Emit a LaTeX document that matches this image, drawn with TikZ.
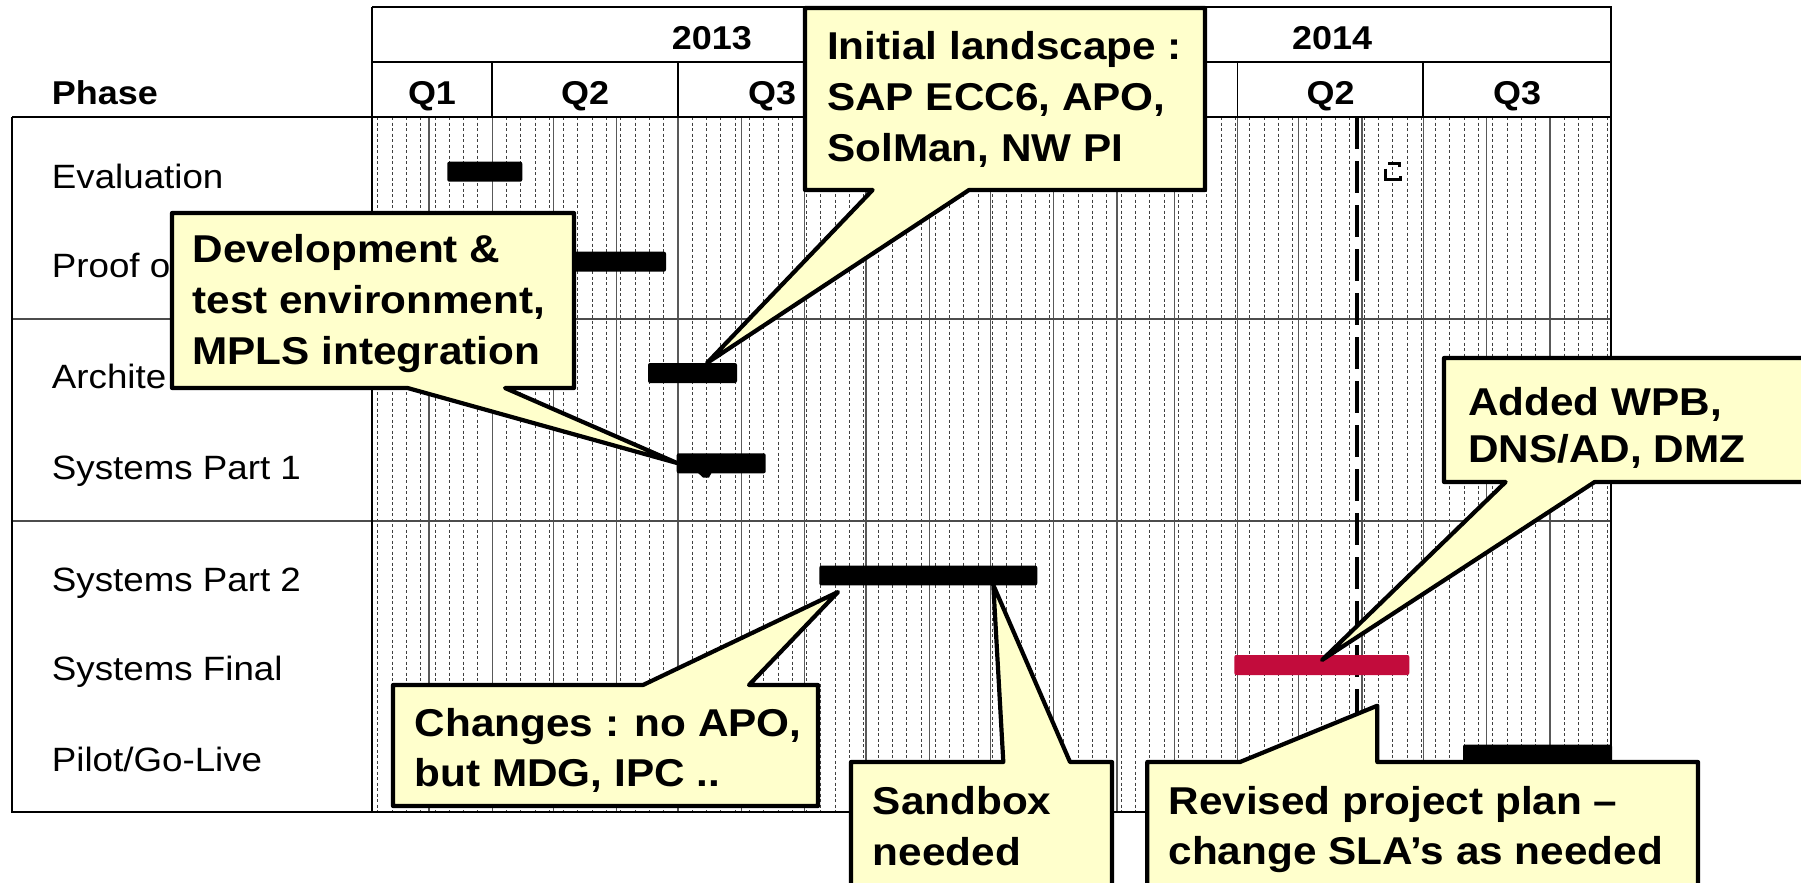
\documentclass[tikz,border=0pt]{standalone}
\usepackage{fontspec}
\setmainfont{Liberation Sans}[FakeStretch=1.09]
\definecolor{callfill}{RGB}{255,255,204}
\definecolor{redbar}{RGB}{194,12,60}
\begin{document}
\begin{tikzpicture}[x=1pt,y=-1pt,
  lbl/.style={inner sep=0pt, anchor=base west, font=\fontsize{33.7}{40}\selectfont},
  hdr/.style={inner sep=0pt, anchor=base, font=\fontsize{33}{40}\selectfont\bfseries},
  ctext/.style={inner sep=0pt, anchor=base west, font=\fontsize{38.8}{50}\selectfont\bfseries},
  calloutbox/.style={draw=black, line width=4.2pt, fill=callfill, line join=round},
  ganttbar/.style={fill=black, rounded corners=2pt},
  weekline/.style={draw=black!75, line width=0.9pt, dash pattern=on 3pt off 2.5pt},
  monthline/.style={draw=black!65, line width=1.3pt},
  rowline/.style={draw=black!70, line width=1.2pt},
  frameline/.style={draw=black, line width=1.8pt},
  milestone/.style={draw=black, line width=3.3pt, dash pattern=on 31.5pt off 12.5pt},
]
\useasboundingbox (0,0) rectangle (1801,883);
\clip (0,0) rectangle (1801,883);
\fill[white] (0,0) rectangle (1801,883);

% ---- grid: weekly dashed lines
\foreach \k in {0,...,86}
  \draw[weekline] ({377.8+14.294*\k},117) -- ({377.8+14.294*\k},812);
% ---- month / quarter lines
\foreach \d in {28,59,89,120,150,181,212,242,273,303,334,365,393,424,454,485,515,546,577}
  \draw[monthline] ({371.7+2.042*\d},117) -- ({371.7+2.042*\d},812);

% ---- row dividers
\draw[rowline] (12,319) -- (1611,319);
\draw[rowline] (12,521) -- (1611,521);

% ---- table frame
\draw[frameline] (12,117) -- (1611,117);
\draw[frameline] (12,117) -- (12,812) -- (1611,812);
\draw[frameline] (372,7) -- (1611,7) -- (1611,812);
\draw[frameline] (372,7) -- (372,812);
\draw[frameline] (372,62) -- (1611,62);
% quarter dividers in the header
\foreach \d in {59,150,242,424,515}
  \draw[frameline] ({371.7+2.042*\d},62) -- ({371.7+2.042*\d},117);
\draw[frameline] ({371.7+2.042*334},7) -- ({371.7+2.042*334},117);

% ---- header texts
\node[hdr, anchor=base west] (hPhase) at (51.7,104) {Phase};
\node[hdr] (y2013) at (712,50) {2013};
\node[hdr] (y2014) at (1332,50) {2014};
\node[hdr] (q1a) at (432,104) {Q1};
\node[hdr] (q2a) at (585,104) {Q2};
\node[hdr] (q3a) at (772,104) {Q3};
\node[hdr] (q2b) at (1330.5,104) {Q2};
\node[hdr] (q3b) at (1517,104) {Q3};

% ---- row labels (two are partly hidden by a callout, as in the picture)
\node[lbl] (lEval)  at (51.7,188) {Evaluation};
\node[lbl] (lPoc)   at (51.7,277) {Proof o};
\node[lbl] (lArch)  at (51.7,388) {Archite};
\node[lbl] (lSys1)  at (51.7,479) {Systems Part 1};
\node[lbl] (lSys2)  at (51.7,591) {Systems Part 2};
\node[lbl] (lFinal) at (51.7,680.5) {Systems Final};
\node[lbl] (lPilot) at (51.7,771) {Pilot/Go-Live};

% ---- milestone dashed line
\draw[milestone] (1357,117) -- (1357,812);

% ---- bars
\fill[ganttbar] (447.3,161.7) rectangle (522.3,181.7);
\fill[ganttbar] (522.3,251.7) rectangle (666,271.7);
\fill[ganttbar] (648,363) rectangle (737,383);
\fill[ganttbar] (676.7,453.3) rectangle (765.7,473.3);
\fill (697,472) -- (712,472) -- (709,477.5) -- (703,477.5) -- cycle;
\fill[ganttbar] (819.3,565.7) rectangle (1037.3,585.3);
\fill[ganttbar, fill=redbar] (1234.3,655) rectangle (1409.3,675);
\fill[ganttbar] (1463,744.5) rectangle (1612,764);

% ---- small bracket mark
\draw[line width=2.6pt] (1399.5,167) -- (1399.5,163.5) -- (1387.5,163.5);
\draw[line width=2.6pt] (1385.5,168.5) -- (1385.5,179.5) -- (1400.5,179.5) -- (1400.5,175.5);

% ---- callout 1
\draw[calloutbox] (805,8) -- (1205,8) -- (1205,190) -- (969,190) -- (707,363) -- (872.6,190) -- (805,190) -- cycle;
\node[ctext] (c1a) at (827,59.5) {Initial landscape :};
\node[ctext] (c1b) at (827,110.5) {SAP ECC6, APO,};
\node[ctext] (c1c) at (827,161.5) {SolMan, NW PI};

% ---- callout 2
\draw[calloutbox] (172,213) -- (574,213) -- (574,388) -- (505,388) -- (677,463) -- (407.6,388) -- (172,388) -- cycle;
\node[ctext] (c2a) at (192.3,262) {Development \&};
\node[ctext] (c2b) at (192.3,313) {test environment,};
\node[ctext] (c2c) at (192.3,364) {MPLS integration};

% ---- callout 3
\draw[calloutbox] (393,685) -- (643,685) -- (838,592) -- (749,685) -- (818,685) -- (818,806) -- (393,806) -- cycle;
\node[ctext] (c3a) at (414.5,736) {Changes : no APO,};
\node[ctext] (c3b) at (414.5,786.5) {but MDG, IPC ..};

% ---- callout 4
\draw[calloutbox] (851,762) -- (1003.3,762) -- (993.3,585) -- (1070,762) -- (1112,762) -- (1112,900) -- (851,900) -- cycle;
\node[ctext] (c4a) at (872.7,814) {Sandbox};
\node[ctext] (c4b) at (872.7,865) {needed};

% ---- callout 5
\draw[calloutbox] (1147.3,762) -- (1240,762) -- (1377.3,705.7) -- (1377.3,762) -- (1698,762) -- (1698,900) -- (1147.3,900) -- cycle;
\node[ctext] (c5a) at (1168.3,814) {Revised project plan –};
\node[ctext] (c5b) at (1168.3,864) {change SLA’s as needed};

% ---- callout 6
\draw[calloutbox] (1444,358) -- (1850,358) -- (1850,482) -- (1594.6,482) -- (1322,660) -- (1505.6,482) -- (1444,482) -- cycle;
\node[ctext] (c6a) at (1468,415) {Added WPB,};
\node[ctext] (c6b) at (1468,462) {DNS/AD, DMZ};
\end{tikzpicture}
\end{document}
